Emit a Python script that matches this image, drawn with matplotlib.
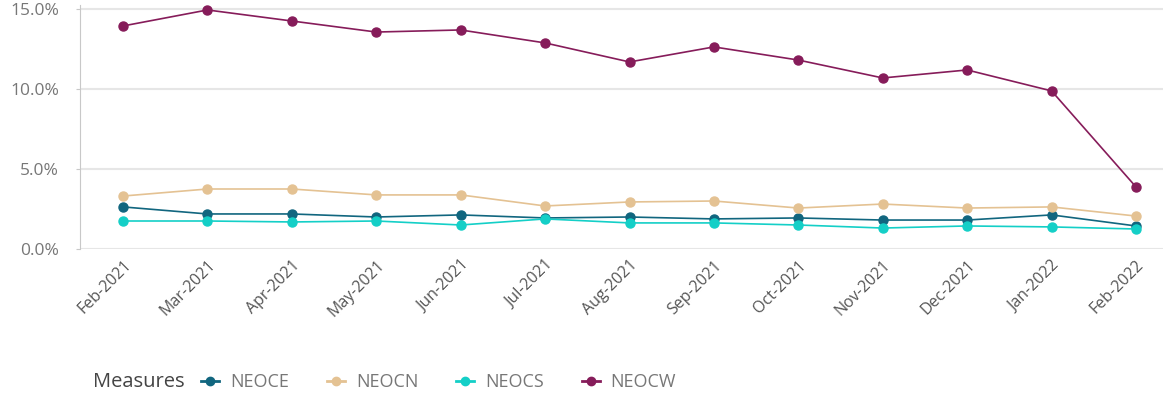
import matplotlib
matplotlib.use("Agg")
import matplotlib.pyplot as plt
from matplotlib.ticker import FuncFormatter
from matplotlib.lines import Line2D

plt.rcParams['font.family'] = ['Open Sans', 'DejaVu Sans']

months = ['Feb-2021', 'Mar-2021', 'Apr-2021', 'May-2021', 'Jun-2021', 'Jul-2021',
          'Aug-2021', 'Sep-2021', 'Oct-2021', 'Nov-2021', 'Dec-2021', 'Jan-2022', 'Feb-2022']

neoce = [2.63, 2.19, 2.19, 2.00, 2.13, 1.94, 2.00, 1.88, 1.94, 1.81, 1.81, 2.13, 1.44]
neocn = [3.31, 3.75, 3.75, 3.38, 3.38, 2.69, 2.94, 3.00, 2.56, 2.81, 2.56, 2.63, 2.06]
neocs = [1.75, 1.75, 1.69, 1.75, 1.50, 1.88, 1.63, 1.63, 1.50, 1.31, 1.44, 1.38, 1.25]
neocw = [13.94, 14.94, 14.25, 13.56, 13.69, 12.88, 11.69, 12.63, 11.81, 10.69, 11.19, 9.88, 3.88]

series = [('NEOCE', neoce, '#11667f'),
          ('NEOCN', neocn, '#e4c293'),
          ('NEOCS', neocs, '#14cfc7'),
          ('NEOCW', neocw, '#861c5a')]

fig = plt.figure(figsize=(11.63, 3.94), dpi=100)
ax = fig.add_axes([80 / 1163, 1 - 249 / 394, 1 - 80 / 1163, 244 / 394])

x = list(range(len(months)))
for name, vals, col in series:
    ax.plot(x, vals, color=col, lw=1.2, marker='o', markersize=6.5,
            label=name, clip_on=False, zorder=3)

ax.set_xlim(-0.51, 12.32)
ax.set_ylim(0, 15.25)
ax.set_yticks([0, 5, 10, 15])
ax.yaxis.set_major_formatter(FuncFormatter(lambda v, p: f'{v:.1f}%'))
ax.set_xticks(x)
ax.set_xticklabels(months, rotation=45, ha='right', rotation_mode='anchor')

ax.grid(axis='y', color='#e6e6e6', lw=1.5)
ax.set_axisbelow(True)
for s in ['top', 'right', 'bottom']:
    ax.spines[s].set_visible(False)
ax.spines['left'].set_color('#c8c8c8')
ax.tick_params(axis='y', colors='#c8c8c8', labelcolor='#777777', labelsize=12.5, length=3, pad=12)
ax.tick_params(axis='x', length=0, labelcolor='#555555', labelsize=11.5, pad=6)

# legend along the bottom
fig.text(93 / 1163, 1 - 382 / 394, 'Measures', fontsize=14.5, color='#444444', va='center')
handles = [Line2D([0], [0], color=c, lw=2, marker='o', markersize=6) for _, _, c in series]
leg = fig.legend(handles, [n for n, _, _ in series], loc='center left',
                 bbox_to_anchor=(185 / 1163, 1 - 382 / 394), ncol=4, frameon=False,
                 fontsize=13, handlelength=1.0, handletextpad=0.6, columnspacing=2.1,
                 labelcolor='#777777')

fig.savefig('out.png', dpi=100)
